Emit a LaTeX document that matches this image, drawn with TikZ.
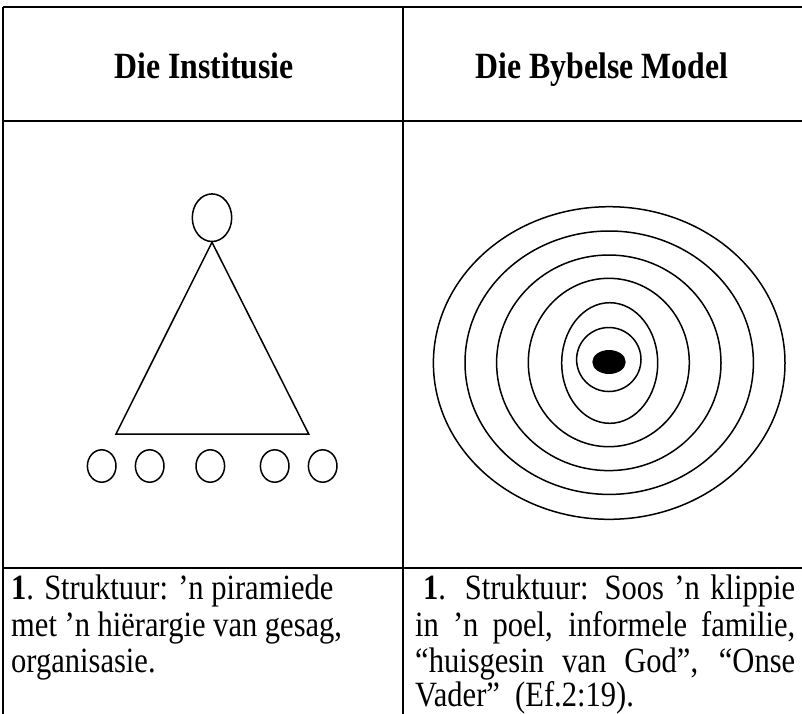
\documentclass[tikz,border=0pt]{standalone}
\usepackage{fontspec}
\setmainfont{Liberation Serif}[FakeStretch=0.86]
\usetikzlibrary{shapes.geometric}
\tikzset{
  rule/.style={line width=2pt},
  shp/.style={draw, line width=1.5pt},
  ell/.style={shp, ellipse, inner sep=0pt},
  hdr/.style={font=\fontsize{37}{40}\selectfont\bfseries, inner sep=0pt},
  body/.style={font=\fontsize{35.5}{38}\selectfont, inner sep=0pt, anchor=base west},
}
\begin{document}
\begin{tikzpicture}[x=1pt,y=-1pt]
\useasboundingbox (0,0) rectangle (802,713);
% table rules
\coordinate (tl) at (3,6.7);
\coordinate (tr) at (803,6.7);
\coordinate (bl) at (3,714);
\coordinate (ml) at (3,121);
\coordinate (mr) at (803,121);
\coordinate (ll) at (3,568);
\coordinate (lr) at (803,568);
\coordinate (dt) at (403,6.7);
\coordinate (db) at (403,714);
\draw[rule] (tl) -- (tr);
\draw[rule] (ml) -- (mr);
\draw[rule] (ll) -- (lr);
\draw[rule] (tl) -- (bl);
\draw[rule] (dt) -- (db);
% headers
\node[hdr, anchor=base] (h1) at (204,78) {Die Institusie};
\node[hdr, anchor=base] (h2) at (602,78) {Die Bybelse Model};
% pyramid
\node[ell, minimum width=39.4pt, minimum height=47.6pt] (top) at (212,217.7) {};
\coordinate (bL) at (116,434);
\coordinate (bR) at (308.7,434);
\draw[shp, line join=miter] (top.south) -- (bR) -- (bL) -- cycle;
\foreach \i/\x in {1/101.7,2/149.7,3/210.3,4/274.7,5/322.7}
  \node[ell, minimum width=28.6pt, minimum height=32.4pt] (c\i) at (\x,466) {};
% concentric
\foreach \i/\cx/\cy/\rx/\ry in {1/609.2/363/175.8/156.3, 2/609.2/362.7/144.2/131.7, 3/608.8/362.8/112.2/107.8, 4/608.8/362.5/80.5/84.2, 5/609.7/363/48/60.3, 6/608.8/359.5/32.2/32}
  \node[ell, minimum width=2*\rx pt, minimum height=2*\ry pt] (r\i) at (\cx,\cy) {};
\node[ellipse, fill=black, inner sep=0pt, minimum width=33.4pt, minimum height=24pt] (dot) at (609,362) {};
% body text left
\node[body] (l1) at (11,599) {\textbf{1}. Struktuur: ’n piramiede};
\node[body] (l2) at (11,636) {met ’n hiërargie van gesag,};
\node[body] (l3) at (11,672) {organisasie.};
% body text right
\node[body] (r1t) at (415,599) {\makebox[380pt][s]{\hspace{8pt}\textbf{1}. Struktuur: Soos ’n klippie}};
\node[body] (r2t) at (415,636) {\makebox[380pt][s]{in ’n poel, informele familie,}};
\node[body] (r3t) at (415,672) {\makebox[380pt][s]{“huisgesin van God”, “Onse}};
\node[body] (r4t) at (415,706) {Vader”\ \ (Ef.2:19).};
\end{tikzpicture}
\end{document}
